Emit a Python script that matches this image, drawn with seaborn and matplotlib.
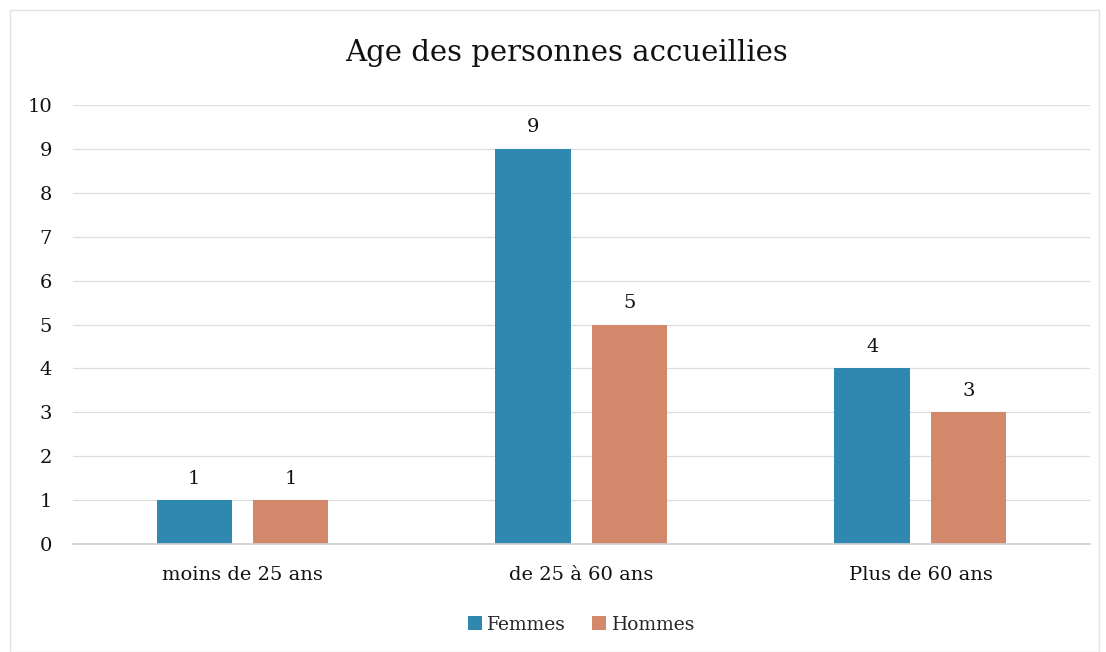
import pandas as pd
import seaborn as sns
import matplotlib.pyplot as plt
from matplotlib.patches import Rectangle

# Data
categories = ["moins de 25 ans", "de 25 à 60 ans", "Plus de 60 ans"]
femmes = [1, 9, 4]
hommes = [1, 5, 3]
series = ["Femmes", "Hommes"]
colors = {"Femmes": "#2e88b0", "Hommes": "#d3876b"}

df = pd.DataFrame({
    "age": categories * 2,
    "sexe": ["Femmes"] * 3 + ["Hommes"] * 3,
    "n": femmes + hommes,
})

sns.set_theme(style="white")
plt.rcParams['font.family'] = ['DejaVu Serif']

fig = plt.figure(figsize=(11.06, 6.52), dpi=100)
ax = fig.add_axes([0.066, 0.1656, 0.9195, 0.6734])

sns.barplot(data=df, x="age", y="n", hue="sexe", order=categories,
            hue_order=series, palette=colors, width=0.57, gap=0.22,
            saturation=1, linewidth=0, ax=ax, legend=True)

for c in ax.containers:
    ax.bar_label(c, fmt="%d", padding=9, fontsize=14, color="#111111")

ax.set_ylim(0, 10)
ax.set_yticks(range(0, 11))
ax.set_xlim(-0.5, 2.5)
ax.yaxis.grid(True, color="#dddddd", linewidth=0.9)
ax.set_axisbelow(True)
for s in ax.spines.values():
    s.set_visible(False)
ax.spines["bottom"].set_visible(True)
ax.spines["bottom"].set_color("#d0d0d0")
ax.tick_params(axis="both", length=0, labelsize=14, colors="#111111")
ax.tick_params(axis="y", pad=15)
ax.tick_params(axis="x", pad=16)
ax.set_xlabel("")
ax.set_ylabel("")

ax.legend(loc="upper center", bbox_to_anchor=(0.5, -0.125), ncol=2,
          frameon=False, fontsize=13.5, handlelength=0.75, handleheight=0.75,
          handletextpad=0.3, columnspacing=1.4)

fig.text(0.512, 0.918, "Age des personnes accueillies", ha="center",
         va="center", fontsize=21, color="#111111")

fig.patches.append(Rectangle((0.009, 0.0), 0.985, 0.985, transform=fig.transFigure,
                             fill=False, edgecolor="#e2e2e2", linewidth=1))

fig.savefig("out.png", dpi=100)
